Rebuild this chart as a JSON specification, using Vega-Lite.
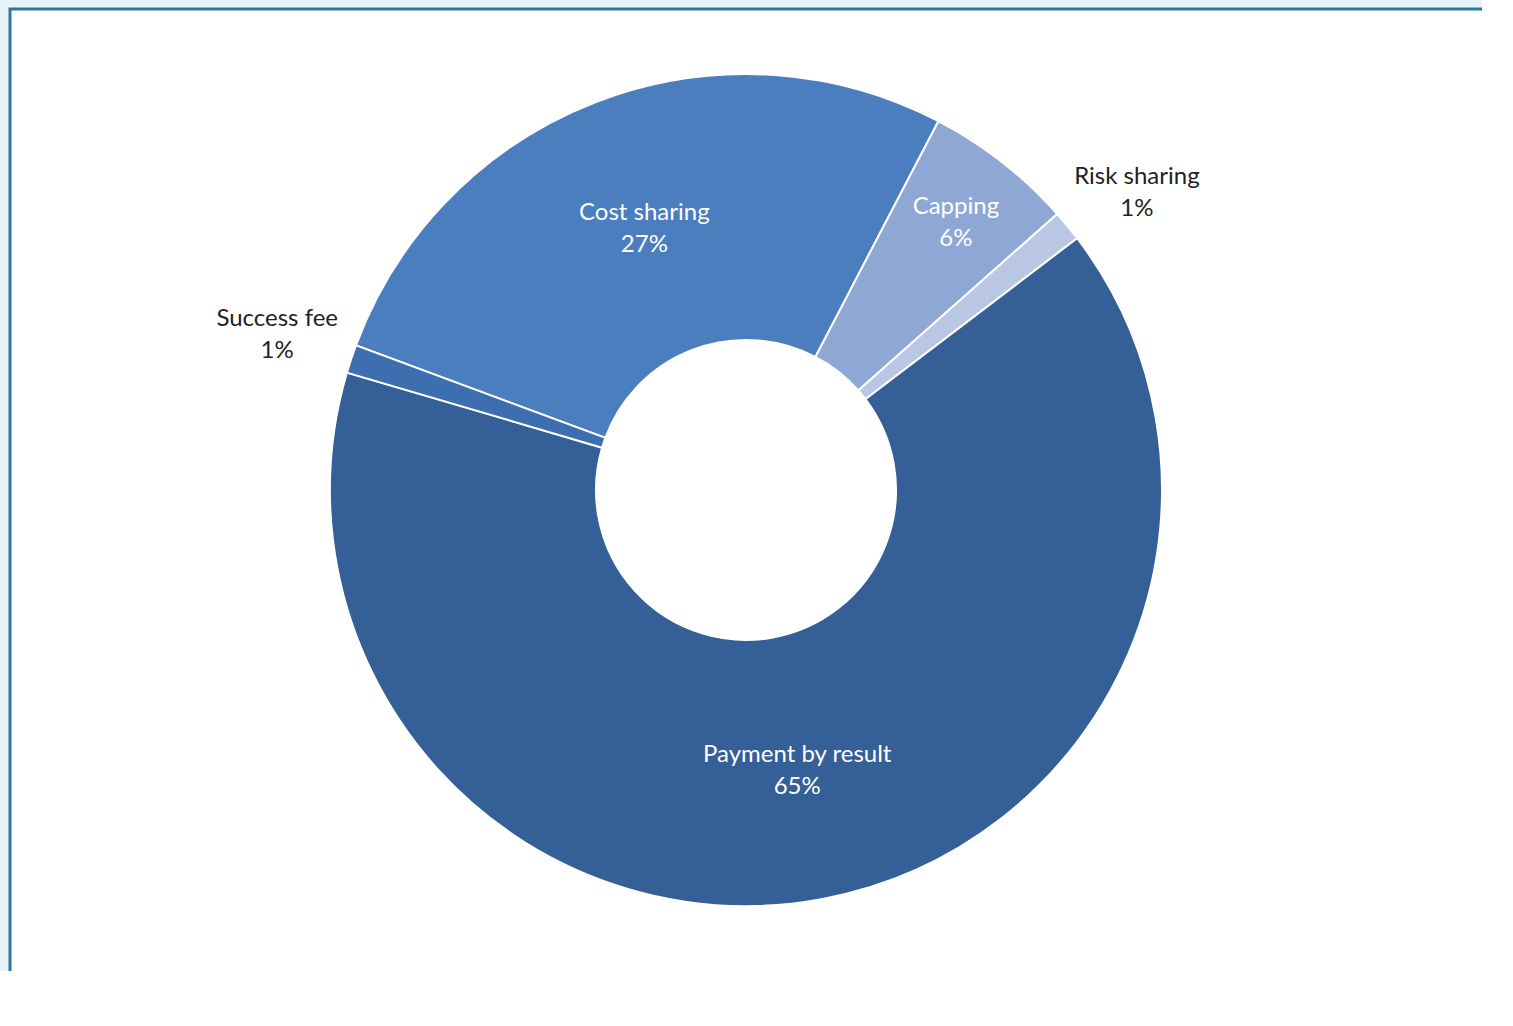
{
  "$schema": "https://vega.github.io/schema/vega-lite/v6.json",
  "width": 1472,
  "height": 962,
  "autosize": {"type": "none"},
  "padding": {"left": 10, "top": 9, "right": 0, "bottom": 0},
  "background": "#e8f3f8",
  "view": {"fill": "white", "stroke": "#2878a0", "strokeWidth": 3, "strokeDash": [1472, 2434, 962, 10]},
  "config": {
    "font": "Lato"
  },
  "data": {
    "values": [
      {"category": "Cost sharing", "value": 27, "idx": 1, "label": "Cost sharing\n27%"},
      {"category": "Capping", "value": 5.8, "idx": 2, "label": "Capping\n6%"},
      {"category": "Risk sharing", "value": 1.2, "idx": 3, "label": "Risk sharing\n1%"},
      {"category": "Payment by result", "value": 64.9, "idx": 4, "label": "Payment by result\n65%"},
      {"category": "Success fee", "value": 1.1, "idx": 5, "label": "Success fee\n1%"}
    ]
  },
  "encoding": {
    "theta": {"field": "value", "type": "quantitative", "stack": true, "scale": {"range": [-1.2156, 5.0676]}},
    "order": {"field": "idx", "type": "quantitative"}
  },
  "layer": [
    {
      "mark": {"type": "arc", "radius": 416, "radius2": 150, "stroke": "white", "strokeWidth": 2},
      "encoding": {
        "color": {
          "field": "category",
          "type": "nominal",
          "legend": null,
          "scale": {
            "domain": ["Cost sharing", "Capping", "Risk sharing", "Payment by result", "Success fee"],
            "range": ["#4a7ebf", "#8fa7d5", "#b9c6e4", "#355f97", "#3d6eb0"]
          }
        }
      }
    },
    {
      "mark": {"type": "text", "radius": 283, "dy": -13, "fontSize": 24, "lineHeight": 32, "lineBreak": "\n", "color": "white", "align": "center", "baseline": "middle"},
      "encoding": {
        "text": {"condition": {"test": "datum.value >= 20", "field": "label"}, "value": ""}
      }
    },
    {
      "mark": {"type": "text", "radius": 341, "dy": -14.5, "fontSize": 24, "lineHeight": 32, "lineBreak": "\n", "color": "white", "align": "center", "baseline": "middle"},
      "encoding": {
        "text": {"condition": {"test": "datum.value >= 5 && datum.value < 20", "field": "label"}, "value": ""}
      }
    },
    {
      "mark": {"type": "text", "radius": 494, "dy": -15, "fontSize": 24, "lineHeight": 32, "lineBreak": "\n", "color": "#222222", "align": "center", "baseline": "middle"},
      "encoding": {
        "text": {"condition": {"test": "datum.category == 'Success fee'", "field": "label"}, "value": ""}
      }
    },
    {
      "mark": {"type": "text", "radius": 491, "thetaOffset": 0.038, "dy": -16, "fontSize": 24, "lineHeight": 32, "lineBreak": "\n", "color": "#222222", "align": "center", "baseline": "middle"},
      "encoding": {
        "text": {"condition": {"test": "datum.category == 'Risk sharing'", "field": "label"}, "value": ""}
      }
    }
  ]
}
